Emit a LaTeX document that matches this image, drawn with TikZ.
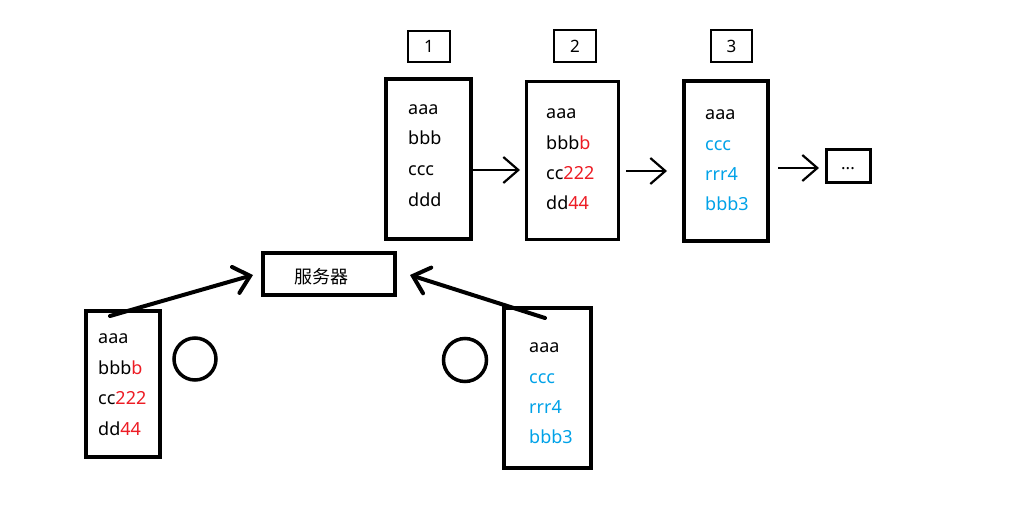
\documentclass[tikz,border=0pt]{standalone}
\usepackage{fontspec}
\setmainfont{Noto Sans}
\newfontfamily\cjk{Noto Sans CJK SC}
\usetikzlibrary{arrows.meta}
\definecolor{pred}{RGB}{237,28,36}
\definecolor{pblue}{RGB}{0,162,232}
\begin{document}
\begin{tikzpicture}[x=1pt,y=-1pt,
  frame/.style={draw, line width=#1, inner sep=0pt},
  txt/.style={font=\fontsize{18}{20}\selectfont, inner sep=0pt, anchor=mid west, yshift=-4pt},
  ctxt/.style={font=\fontsize{17}{20}\selectfont, inner sep=0pt},
  toparr/.style={line width=2.2pt, -{Straight Barb[length=15pt, width=26pt, line width=2.2pt]}},
  bigarr/.style={line width=4pt, line cap=round, -{Straight Barb[length=15pt, width=27pt, line width=4pt, line cap=round]}},
  ring/.style={draw, circle, line width=3.5pt, inner sep=0pt}]
\useasboundingbox (0,0) rectangle (1012,505);
\fill[white] (0,0) rectangle (1012,505);

% number labels
\node[frame=2pt, minimum width=42, minimum height=31] (l1) at (429,46.5) {};
\node[ctxt] (l1t) at (l1.center) {1};
\node[frame=2pt, minimum width=42, minimum height=32] (l2) at (575,46) {};
\node[ctxt] (l2t) at (l2.center) {2};
\node[frame=2pt, minimum width=41, minimum height=32] (l3) at (731.5,46) {};
\node[ctxt] (l3t) at (l3.center) {3};

% top boxes
\node[frame=4pt, minimum width=85, minimum height=160] (b1) at (428.5,159) {};
\node[txt] (b1a) at (408,108) {aaa};
\node[txt] (b1b) at (408,138) {bbb};
\node[txt] (b1c) at (408,169) {ccc};
\node[txt] (b1d) at (408,200) {ddd};

\node[frame=3pt, minimum width=92, minimum height=158] (b2) at (572.5,160.5) {};
\node[txt] (b2a) at (546,112) {aaa};
\node[txt] (b2b) at (546,143) {bbb\textcolor{pred}{b}};
\node[txt] (b2c) at (546,173) {cc\textcolor{pred}{222}};
\node[txt] (b2d) at (546,203) {dd\textcolor{pred}{44}};

\node[frame=4pt, minimum width=84, minimum height=160] (b3) at (726,161) {};
\node[txt] (b3a) at (705,113) {aaa};
\node[txt, text=pblue] (b3b) at (705,144) {ccc};
\node[txt, text=pblue] (b3c) at (705,174) {rrr4};
\node[txt, text=pblue] (b3d) at (705,204) {bbb3};

\node[frame=3pt, minimum width=44, minimum height=33] (dots) at (848.5,166) {};
\node[ctxt] (dotst) at (848,169) {...};

\coordinate (e1) at (520,170);
\coordinate (e2) at (667,171);
\coordinate (s2) at (626,171);
\coordinate (e3) at (819,168);
\coordinate (s3) at (778,168);
\draw[toparr] (b1.east |- e1) -- (e1);
\draw[toparr] (s2) -- (e2);
\draw[toparr] (s3) -- (e3);

% server
\node[frame=4pt, minimum width=132, minimum height=42] (srv) at (329,274) {};
\node[font=\cjk\fontsize{18}{20}\selectfont, inner sep=0pt] (srvt) at (321,277) {服务器};

% left client
\node[frame=4pt, minimum width=74, minimum height=146] (cl) at (123,384) {};
\node[txt] (cla) at (98,337) {aaa};
\node[txt] (clb) at (98,368) {bbb\textcolor{pred}{b}};
\node[txt] (clc) at (98,398) {cc\textcolor{pred}{222}};
\node[txt] (cld) at (98,429) {dd\textcolor{pred}{44}};
\node[ring, minimum size=42] (cirl) at (195,359) {};

% right client
\node[frame=3.5pt, minimum width=87, minimum height=160] (cr) at (547.5,388) {};
\node[txt] (cra) at (529,346) {aaa};
\node[txt, text=pblue] (crb) at (529,377) {ccc};
\node[txt, text=pblue] (crc) at (529,407) {rrr4};
\node[txt, text=pblue] (crd) at (529,437) {bbb3};
\node[ring, minimum size=43] (cirr) at (465,360) {};

% arrows to server
\coordinate (ls) at (110,316);
\coordinate (lt) at (253,275);
\coordinate (rs) at (545,318);
\coordinate (rt) at (410,275);
\draw[bigarr] (ls) -- (lt);
\draw[bigarr] (rs) -- (rt);
\end{tikzpicture}
\end{document}
